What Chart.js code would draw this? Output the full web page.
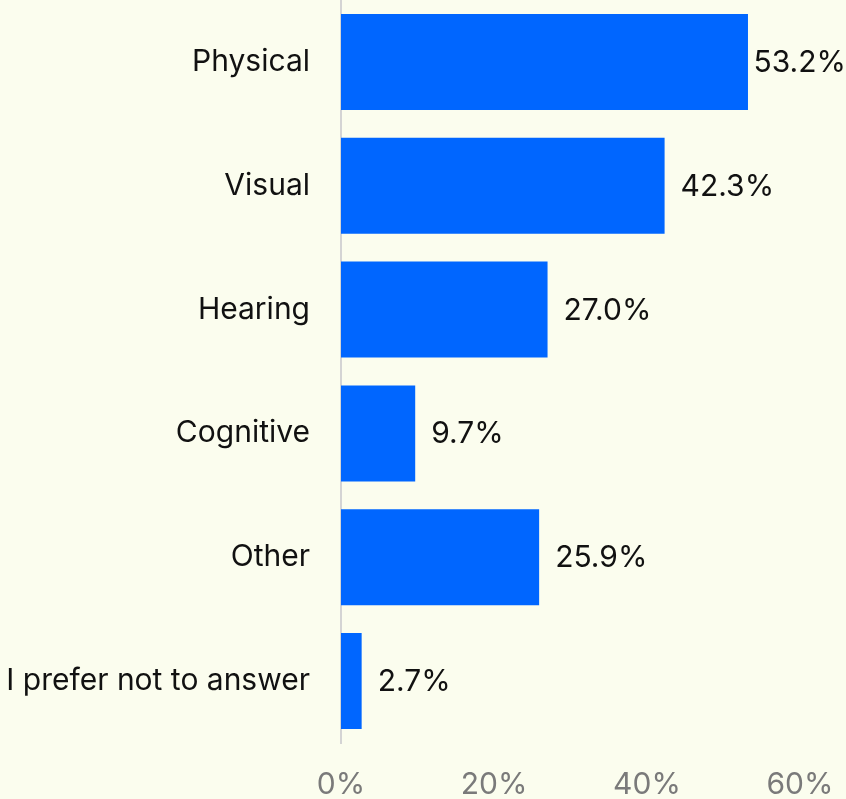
<!DOCTYPE html>
<html>
<head>
<meta charset="utf-8">
<script src="https://cdn.jsdelivr.net/npm/chart.js@4"></script>
<style>
  html, body { margin: 0; padding: 0; background: #fbfdee; }
  #wrap { width: 846px; height: 799px; position: relative; }
</style>
</head>
<body>
<div id="wrap"><canvas id="bar-chart"></canvas></div>
<script>
const categories = ['Physical', 'Visual', 'Hearing', 'Cognitive', 'Other', 'I prefer not to answer'];
const shares = [53.2, 42.3, 27.0, 9.7, 25.9, 2.7];
const tickValues = [0, 20, 40, 60];

const FONT = 'Inter, "Liberation Sans", sans-serif';

// value labels at the end of each bar
const valueLabels = {
  id: 'valueLabels',
  afterDatasetsDraw(chart) {
    const ctx = chart.ctx;
    const meta = chart.getDatasetMeta(0);
    ctx.save();
    ctx.font = '30px ' + FONT;
    ctx.fillStyle = '#111111';
    ctx.textBaseline = 'middle';
    ctx.textAlign = 'left';
    meta.data.forEach((bar, i) => {
      const text = shares[i].toFixed(1) + '%';
      const w = ctx.measureText(text).width;
      let x = bar.x + 16;
      if (x + w > chart.width) x = chart.width - w;
      ctx.fillText(text, x, bar.y + 1);
    });
    ctx.restore();
  }
};

window.addEventListener('load', () => {
  const ctx = document.getElementById('bar-chart').getContext('2d');
  window.myBarChart = new Chart(ctx, {
    type: 'bar',
    data: {
      labels: categories,
      datasets: [{
        data: shares,
        backgroundColor: '#0066ff',
        borderWidth: 0,
        categoryPercentage: 1,
        barPercentage: 0.775,
      }],
    },
    options: {
      indexAxis: 'y',
      responsive: true,
      maintainAspectRatio: false,
      animation: false,
      plugins: {
        legend: { display: false },
        tooltip: { enabled: false },
      },
      layout: {
        padding: { left: 0, right: 46, top: 0, bottom: 0 },
      },
      scales: {
        x: {
          min: 0,
          max: 60,
          afterBuildTicks: (axis) => {
            axis.ticks = tickValues.map(v => ({ value: v }));
          },
          afterFit: (axis) => {
            axis.height = 56;
            axis.paddingLeft = 0;
            axis.paddingRight = 0;
          },
          grid: { display: false, drawTicks: false },
          border: { display: false },
          ticks: {
            padding: 24,
            color: '#7a7a7a',
            font: { family: FONT, size: 30 },
            maxRotation: 0,
            callback: (v) => v + '%',
          },
        },
        y: {
          afterFit: (axis) => {
            axis.width = 341;
            axis.paddingTop = 0;
            axis.paddingBottom = 0;
          },
          grid: { display: false, drawTicks: false },
          border: { display: true, color: '#d4d4d4', width: 2 },
          ticks: {
            padding: 31,
            color: '#111111',
            font: { family: FONT, size: 30 },
          },
        },
      },
    },
    plugins: [valueLabels],
  });
});
</script>
</body>
</html>
